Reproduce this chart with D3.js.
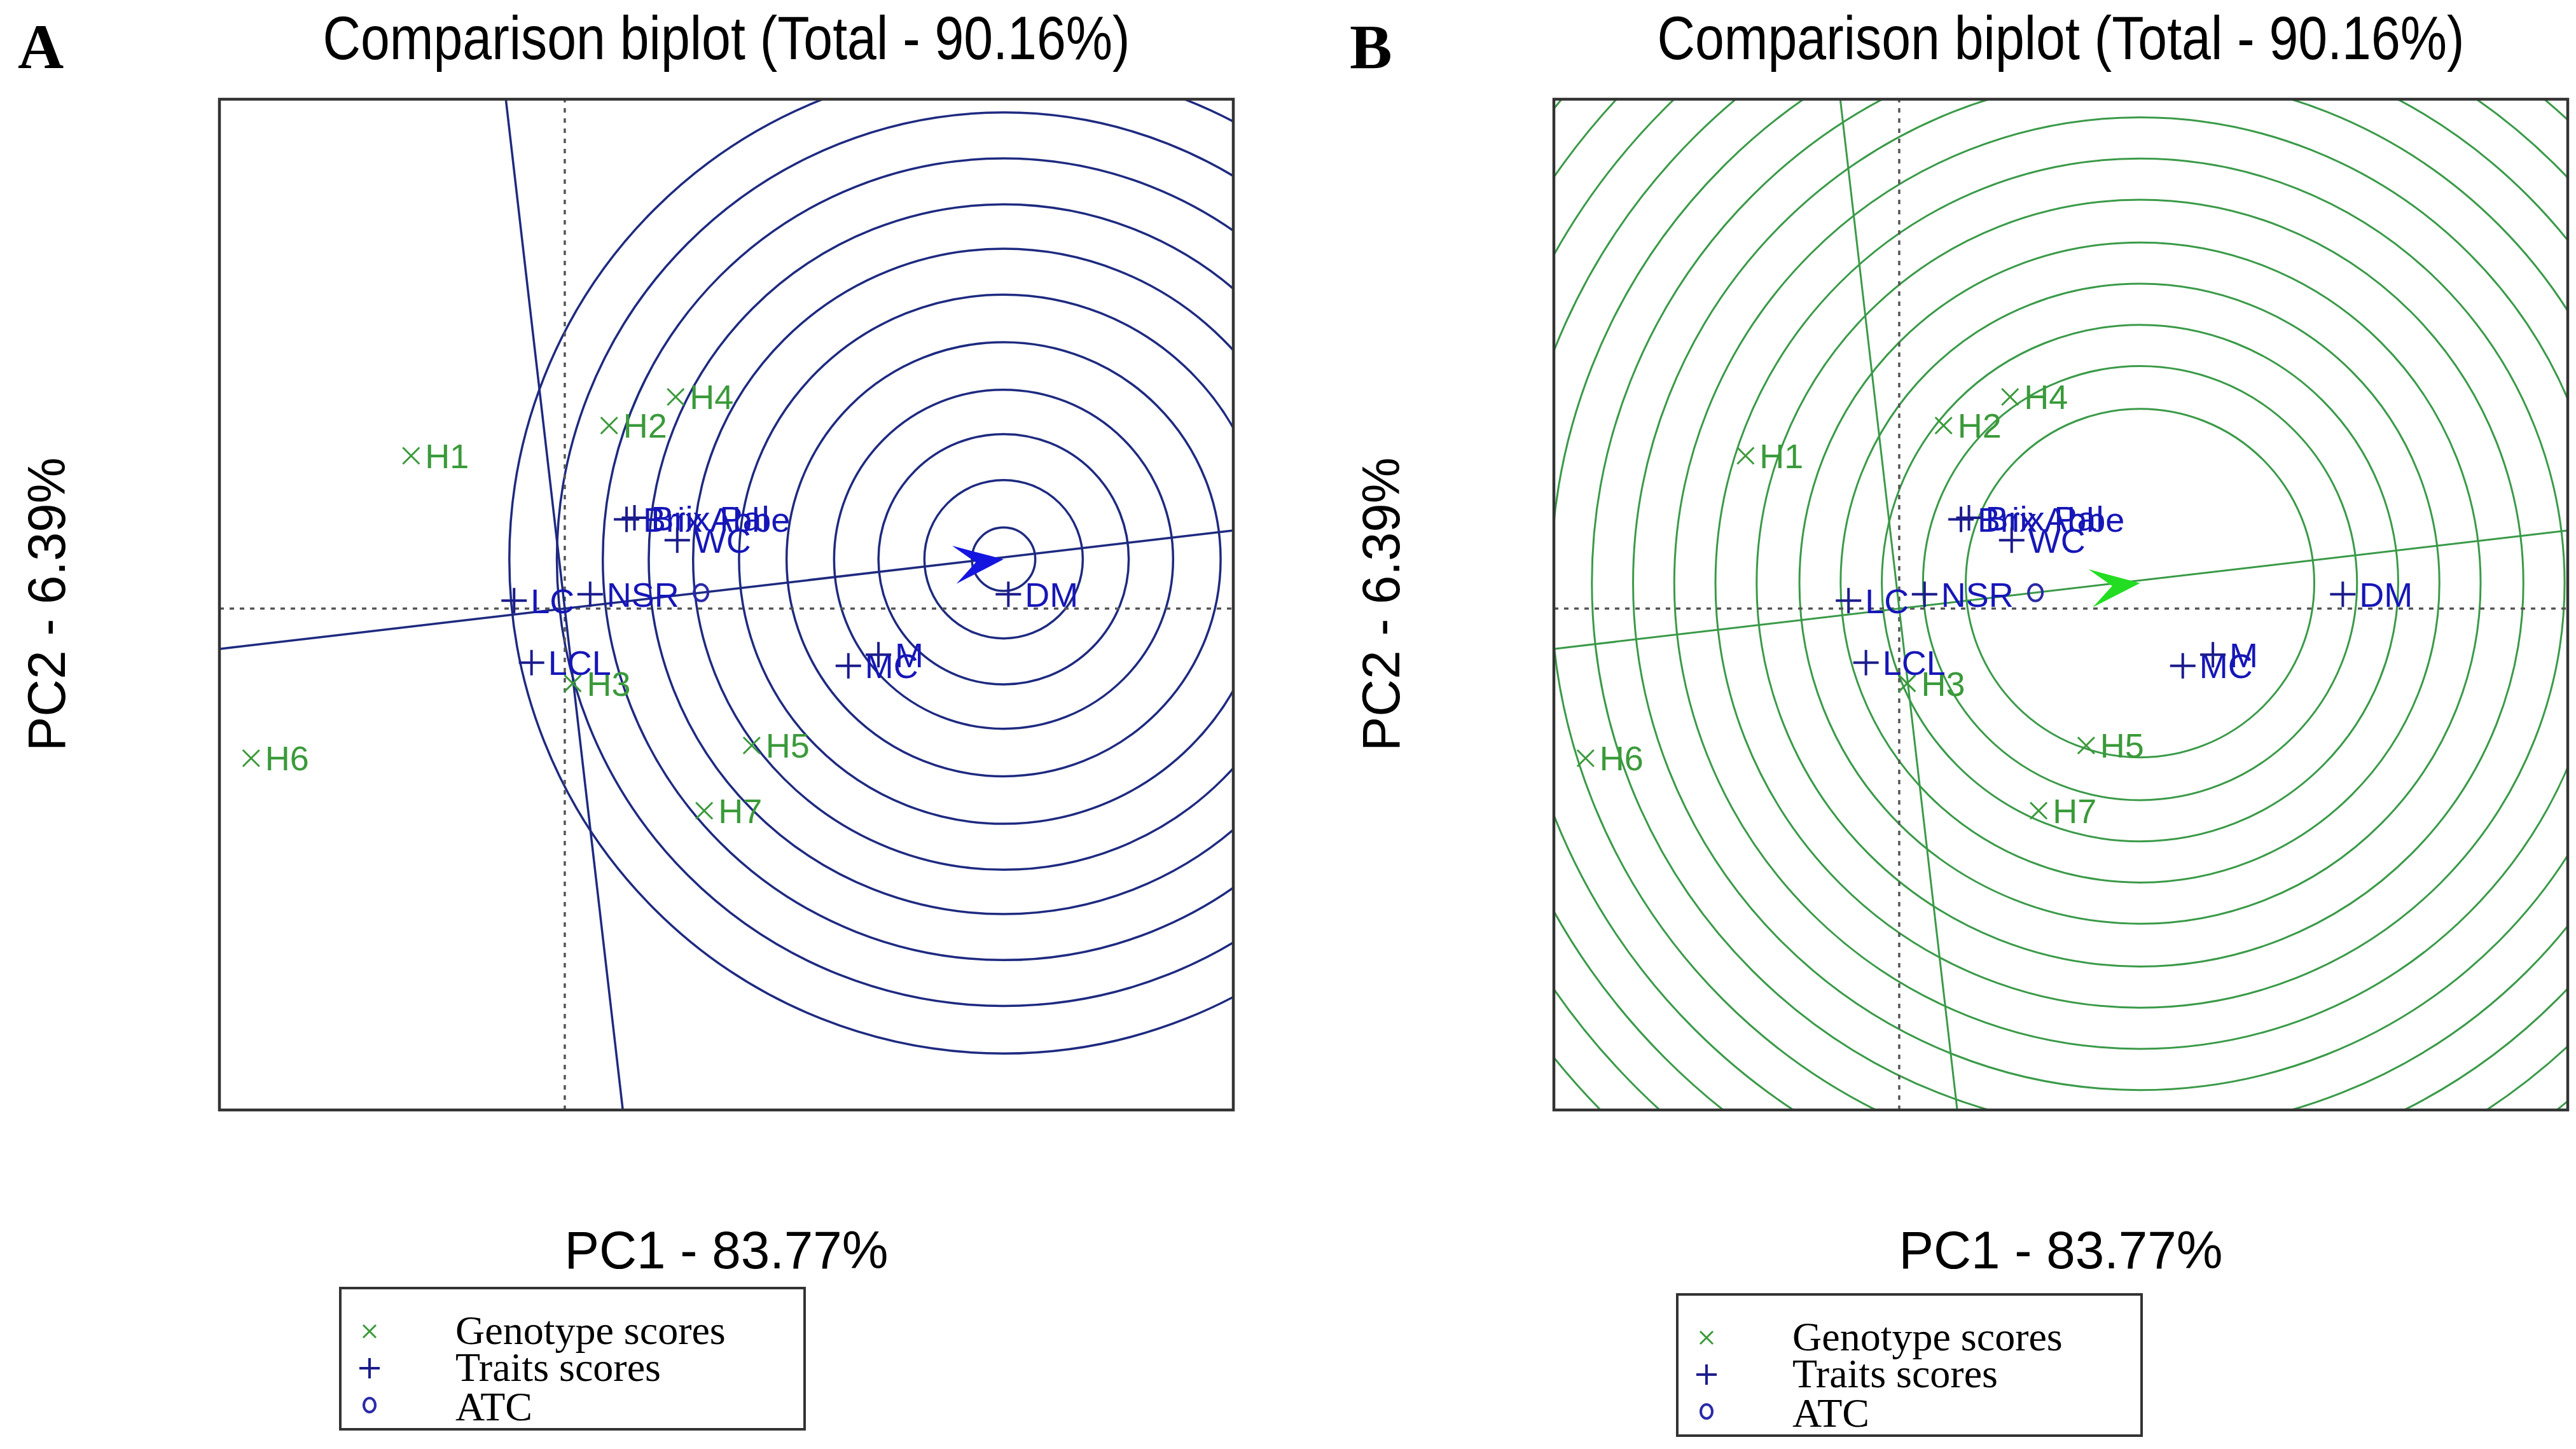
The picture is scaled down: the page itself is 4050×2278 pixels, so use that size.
<!DOCTYPE html>
<html>
<head>
<meta charset="utf-8">
<script src="https://cdn.jsdelivr.net/npm/d3@7"></script>
<style>
  html, body { margin: 0; padding: 0; background: #fff; }
  svg { display: block; }
</style>
</head>
<body>
<svg id="chart" width="4050" height="2278"></svg>
<script>
// Genotype scores (PC1, PC2)
const genotypes = ["H1", "H2", "H3", "H4", "H5", "H6", "H7"];
const genoPC1 = [-0.97, 0.28, 0.05, 0.70, 1.18, -1.98, 0.88];
const genoPC2 = [0.96, 1.15, -0.47, 1.33, -0.86, -0.94, -1.27];

// Trait scores (PC1, PC2)
const traits = ["Brix Abbe", "Brix Pal", "WC", "NSR", "LC", "LCL", "DM", "MC", "M"];
const traitPC1 = [0.39, 0.44, 0.71, 0.16, -0.32, -0.21, 2.80, 1.79, 1.98];
const traitPC2 = [0.56, 0.57, 0.43, 0.09, 0.05, -0.34, 0.09, -0.36, -0.29];

// average tester coordinate and ideal points (circle centres)
const atcPoint = [0.86, 0.10];
const idealA = [2.77, 0.31];
const idealB = [1.52, 0.16];

// concentric circle radii
const ringsA = [0.20, 0.50, 0.79, 1.07, 1.37, 1.67, 1.96, 2.24, 2.53, 2.82, 3.12];
const ringsB = [1.10, 1.37, 1.63, 1.89, 2.15, 2.42, 2.68, 2.94, 3.20, 3.46, 3.72, 3.98, 4.24, 4.50, 4.76, 5.02];

// axis ranges and labels
const xDomain = [-2.18, 4.22];
const yDomain = [-3.15, 3.2];
const titleText = "Comparison biplot (Total - 90.16%)";
const xLabel = "PC1 - 83.77%";
const yLabel = "PC2 - 6.39%";
const legendLabels = ["Genotype scores", "Traits scores", "ATC"];

const svg = d3.select("#chart");
const plotTop = 156, plotH = 1589, plotW = 1594;
const sans = "'Liberation Sans', Arial, sans-serif";
const serif = "'Liberation Serif', 'Times New Roman', serif";

function drawPanel(cfg) {
    const g = svg.append("g");
    const left = cfg.left;
    const x = d3.scaleLinear().domain(xDomain).range([left, left + plotW]);
    const y = d3.scaleLinear().domain(yDomain).range([plotTop + plotH, plotTop]);

    const clipId = "clip" + cfg.letter;
    svg.append("clipPath").attr("id", clipId)
        .append("rect").attr("x", left).attr("y", plotTop).attr("width", plotW).attr("height", plotH);

    const area = g.append("g").attr("clip-path", `url(#${clipId})`);

    // concentric circles around the ideal point
    const pr = x(1) - x(0);
    area.append("g").selectAll("circle").data(cfg.rings).join("circle")
        .attr("cx", x(cfg.ideal[0]))
        .attr("cy", y(cfg.ideal[1]))
        .attr("r", d => d * pr)
        .attr("fill", "none")
        .attr("stroke", cfg.lineColor)
        .attr("stroke-width", cfg.lineWidth);

    // dotted origin lines
    area.append("line")
        .attr("x1", x(xDomain[0])).attr("x2", x(xDomain[1]))
        .attr("y1", y(0)).attr("y2", y(0))
        .attr("stroke", "#555").attr("stroke-width", 3.5).attr("stroke-dasharray", "7 9");
    area.append("line")
        .attr("x1", x(0)).attr("x2", x(0))
        .attr("y1", y(yDomain[0])).attr("y2", y(yDomain[1]))
        .attr("stroke", "#555").attr("stroke-width", 3.5).attr("stroke-dasharray", "7 9");

    // ATC abscissa through origin and ATC point, and its perpendicular
    const slope = atcPoint[1] / atcPoint[0];
    area.append("line")
        .attr("x1", x(xDomain[0])).attr("y1", y(xDomain[0] * slope))
        .attr("x2", x(xDomain[1])).attr("y2", y(xDomain[1] * slope))
        .attr("stroke", cfg.lineColor).attr("stroke-width", cfg.lineWidth);
    area.append("line")
        .attr("x1", x(-slope * yDomain[0])).attr("y1", y(yDomain[0]))
        .attr("x2", x(-slope * yDomain[1])).attr("y2", y(yDomain[1]))
        .attr("stroke", cfg.lineColor).attr("stroke-width", cfg.lineWidth);

    // arrow head at the ideal point
    const ang = Math.atan2(-(y(cfg.ideal[1]) - y(0)), x(cfg.ideal[0]) - x(0)) * 180 / Math.PI;
    area.append("path")
        .attr("d", "M0,0 L-78,-30 L-44,0 L-78,30 Z")
        .attr("transform", `translate(${x(cfg.ideal[0])},${y(cfg.ideal[1])}) rotate(${-ang})`)
        .attr("fill", cfg.arrowColor);

    // ATC marker
    area.append("ellipse")
        .attr("cx", x(atcPoint[0])).attr("cy", y(atcPoint[1]))
        .attr("rx", 11).attr("ry", 13)
        .attr("fill", "none").attr("stroke", "#2a2aa8").attr("stroke-width", 4);

    // genotype scores
    const geno = area.append("g").selectAll("g").data(genotypes).join("g")
        .attr("transform", (d, i) => `translate(${x(genoPC1[i])},${y(genoPC2[i])})`);
    geno.append("path").attr("d", "M-13,-13L13,13M-13,13L13,-13")
        .attr("stroke", "#3a9a3a").attr("stroke-width", 3);
    geno.append("text").text(d => d)
        .attr("x", 22).attr("dy", "0.36em")
        .attr("font-family", sans).attr("font-size", 54).attr("fill", "#3a9a3a");

    // trait scores
    const tr = area.append("g").selectAll("g").data(traits).join("g")
        .attr("transform", (d, i) => `translate(${x(traitPC1[i])},${y(traitPC2[i])})`);
    tr.append("path").attr("d", "M-20,0H20M0,-20V20")
        .attr("stroke", "#1c1c8c").attr("stroke-width", 4);
    tr.append("text").text(d => d)
        .attr("x", 26).attr("dy", "0.36em")
        .attr("font-family", sans).attr("font-size", 54).attr("fill", "#1616b8");

    // plot frame
    g.append("rect")
        .attr("x", left).attr("y", plotTop).attr("width", plotW).attr("height", plotH)
        .attr("fill", "none").attr("stroke", "#333").attr("stroke-width", 4.5);

    const cx = left + plotW / 2;
    g.append("text").text(titleText)
        .attr("x", cx).attr("y", 93).attr("text-anchor", "middle")
        .attr("font-family", sans).attr("font-size", 96)
        .attr("textLength", 1269).attr("lengthAdjust", "spacingAndGlyphs");
    g.append("text").text(cfg.letter)
        .attr("x", cfg.letterX).attr("y", 107)
        .attr("font-family", serif).attr("font-weight", "bold").attr("font-size", 100);
    g.append("text").text(xLabel)
        .attr("x", cx).attr("y", 1994).attr("text-anchor", "middle")
        .attr("font-family", sans).attr("font-size", 84)
        .attr("textLength", 509).attr("lengthAdjust", "spacingAndGlyphs");
    g.append("text").text(yLabel)
        .attr("transform", `translate(${left - 243},950) rotate(-90)`)
        .attr("text-anchor", "middle")
        .attr("font-family", sans).attr("font-size", 84)
        .attr("textLength", 462).attr("lengthAdjust", "spacingAndGlyphs");

    // legend
    const lg = g.append("g").attr("transform", `translate(${cfg.legendX},${cfg.legendY})`);
    lg.append("rect").attr("width", 730).attr("height", 222)
        .attr("fill", "#fff").attr("stroke", "#333").attr("stroke-width", 4);
    const rowY = [68, 126, 188];
    lg.append("path").attr("d", `M36,${rowY[0] - 10}L56,${rowY[0] + 10}M36,${rowY[0] + 10}L56,${rowY[0] - 10}`)
        .attr("stroke", "#3a9a3a").attr("stroke-width", 3);
    lg.append("path").attr("d", `M30,${rowY[1]}H62M46,${rowY[1] - 16}V${rowY[1] + 16}`)
        .attr("stroke", "#1c1c8c").attr("stroke-width", 4);
    lg.append("ellipse").attr("cx", 46).attr("cy", rowY[2] - 4).attr("rx", 9).attr("ry", 11)
        .attr("fill", "none").attr("stroke", "#2a2aa8").attr("stroke-width", 4);
    lg.selectAll("text.leg").data(legendLabels).join("text")
        .attr("class", "leg")
        .attr("x", 181).attr("y", (d, i) => rowY[i] + 20)
        .attr("font-family", serif).attr("font-size", 64)
        .text(d => d);
}

drawPanel({
    letter: "A", letterX: 28, left: 345,
    rings: ringsA, ideal: idealA,
    lineColor: "#1e2a80", lineWidth: 3.5, arrowColor: "#1515e0",
    legendX: 535, legendY: 2025
});
drawPanel({
    letter: "B", letterX: 2122, left: 2443,
    rings: ringsB, ideal: idealB,
    lineColor: "#3a9a48", lineWidth: 3, arrowColor: "#22dd22",
    legendX: 2637, legendY: 2035
});
</script>
</body>
</html>
